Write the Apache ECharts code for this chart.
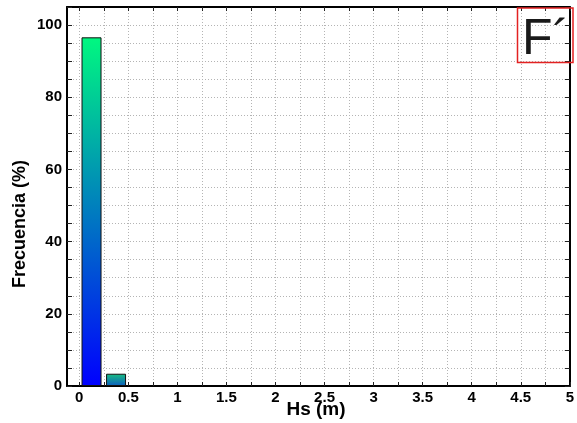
<!DOCTYPE html>
<html>
<head>
<meta charset="utf-8">
<script src="https://cdn.jsdelivr.net/npm/echarts@6/dist/echarts.min.js"></script>
<style>
  html, body { margin: 0; padding: 0; background: #fff; }
  #chart { width: 577px; height: 423px; }
</style>
</head>
<body>
<div id="chart"></div>
<script>
// Significant wave height bins (bin centres, m) and frequency of occurrence (%)
const hsCenters = [0.125, 0.375];
const frecuencia = [96.6, 3.4];

// Axis ticks and labels
const xTicks = [0, 0.25, 0.5, 0.75, 1, 1.25, 1.5, 1.75, 2, 2.25, 2.5, 2.75, 3, 3.25, 3.5, 3.75, 4, 4.25, 4.5, 4.75, 5];
const xLabels = [0, 0.5, 1, 1.5, 2, 2.5, 3, 3.5, 4, 4.5, 5];
const yLabels = [0, 20, 40, 60, 80, 100];

const panelTag = 'F\u00B4';
const xTitle = 'Hs (m)';
const yTitle = 'Frecuencia (%)';

// Each bar shades from green at the top to blue at the base
const barGradients = [
  ['#00f880', '#0000ff'],
  ['#18c080', '#0c5cc0']
];

const chart = echarts.init(document.getElementById('chart'), null, { renderer: 'canvas' });

const FONT = '"Liberation Sans", Arial, sans-serif';
const gridLine = { show: true, lineStyle: { color: '#b4b4b4', type: [1, 2], width: 1 } };
const axisLine = { show: true, onZero: false, lineStyle: { color: '#000', width: 2 } };

const option = {
  backgroundColor: '#fff',
  animation: false,
  grid: { left: 67, right: 4, top: 7, bottom: 37, containLabel: false },
  xAxis: [
    {
      type: 'value', min: -0.125, max: 5, position: 'bottom',
      axisLine: axisLine,
      axisTick: { show: true, inside: true, length: 4, customValues: xTicks, lineStyle: { color: '#222', width: 1 } },
      axisLabel: { customValues: xLabels, margin: 4, color: '#000', fontFamily: FONT, fontWeight: 'bold', fontSize: 15,
        formatter: v => String(v) },
      splitLine: gridLine
    },
    {
      type: 'value', min: -0.125, max: 5, position: 'top',
      axisLine: axisLine,
      axisTick: { show: true, inside: true, length: 4, customValues: xTicks, lineStyle: { color: '#222', width: 1 } },
      axisLabel: { show: false },
      splitLine: { show: false }
    }
  ],
  yAxis: [
    {
      type: 'value', min: 0, max: 105, interval: 5, position: 'left',
      axisLine: axisLine,
      axisTick: { show: true, inside: true, length: 5, lineStyle: { color: '#222', width: 1 } },
      axisLabel: { customValues: yLabels, margin: 5, color: '#000', fontFamily: FONT, fontWeight: 'bold', fontSize: 15 },
      splitLine: gridLine
    },
    {
      type: 'value', min: 0, max: 105, interval: 5, position: 'right',
      axisLine: axisLine,
      axisTick: { show: true, inside: true, length: 5, lineStyle: { color: '#222', width: 1 } },
      axisLabel: { show: false },
      splitLine: { show: false }
    }
  ],
  series: [
    {
      type: 'bar',
      xAxisIndex: 0, yAxisIndex: 0,
      barWidth: 20,
      data: hsCenters.map((x, i) => ({
        value: [x, frecuencia[i]],
        itemStyle: {
          color: new echarts.graphic.LinearGradient(0, 0, 0, 1, [
            { offset: 0, color: barGradients[i][0] },
            { offset: 1, color: barGradients[i][1] }
          ]),
          borderColor: '#111',
          borderWidth: 1
        }
      }))
    }
  ],
  graphic: [
    {
      type: 'text',
      x: 316, y: 410,
      style: { text: xTitle, fill: '#000', font: 'bold 19px ' + FONT, align: 'center', verticalAlign: 'middle' }
    },
    {
      type: 'text',
      x: 20, y: 224, rotation: Math.PI / 2,
      style: { text: yTitle, fill: '#000', font: 'bold 18px ' + FONT, align: 'center', verticalAlign: 'middle' }
    },
    {
      type: 'rect',
      shape: { x: 517.5, y: 8, width: 55.5, height: 54.5 },
      style: { fill: 'rgba(255,255,255,0)', stroke: '#e32222', lineWidth: 1.5 },
      z: 100
    },
    {
      type: 'text',
      x: 522, y: 40,
      style: { text: panelTag, fill: '#1a1a1a', font: '50px ' + FONT, align: 'left', verticalAlign: 'middle' },
      z: 100
    }
  ]
};

chart.setOption(option);
</script>
</body>
</html>
